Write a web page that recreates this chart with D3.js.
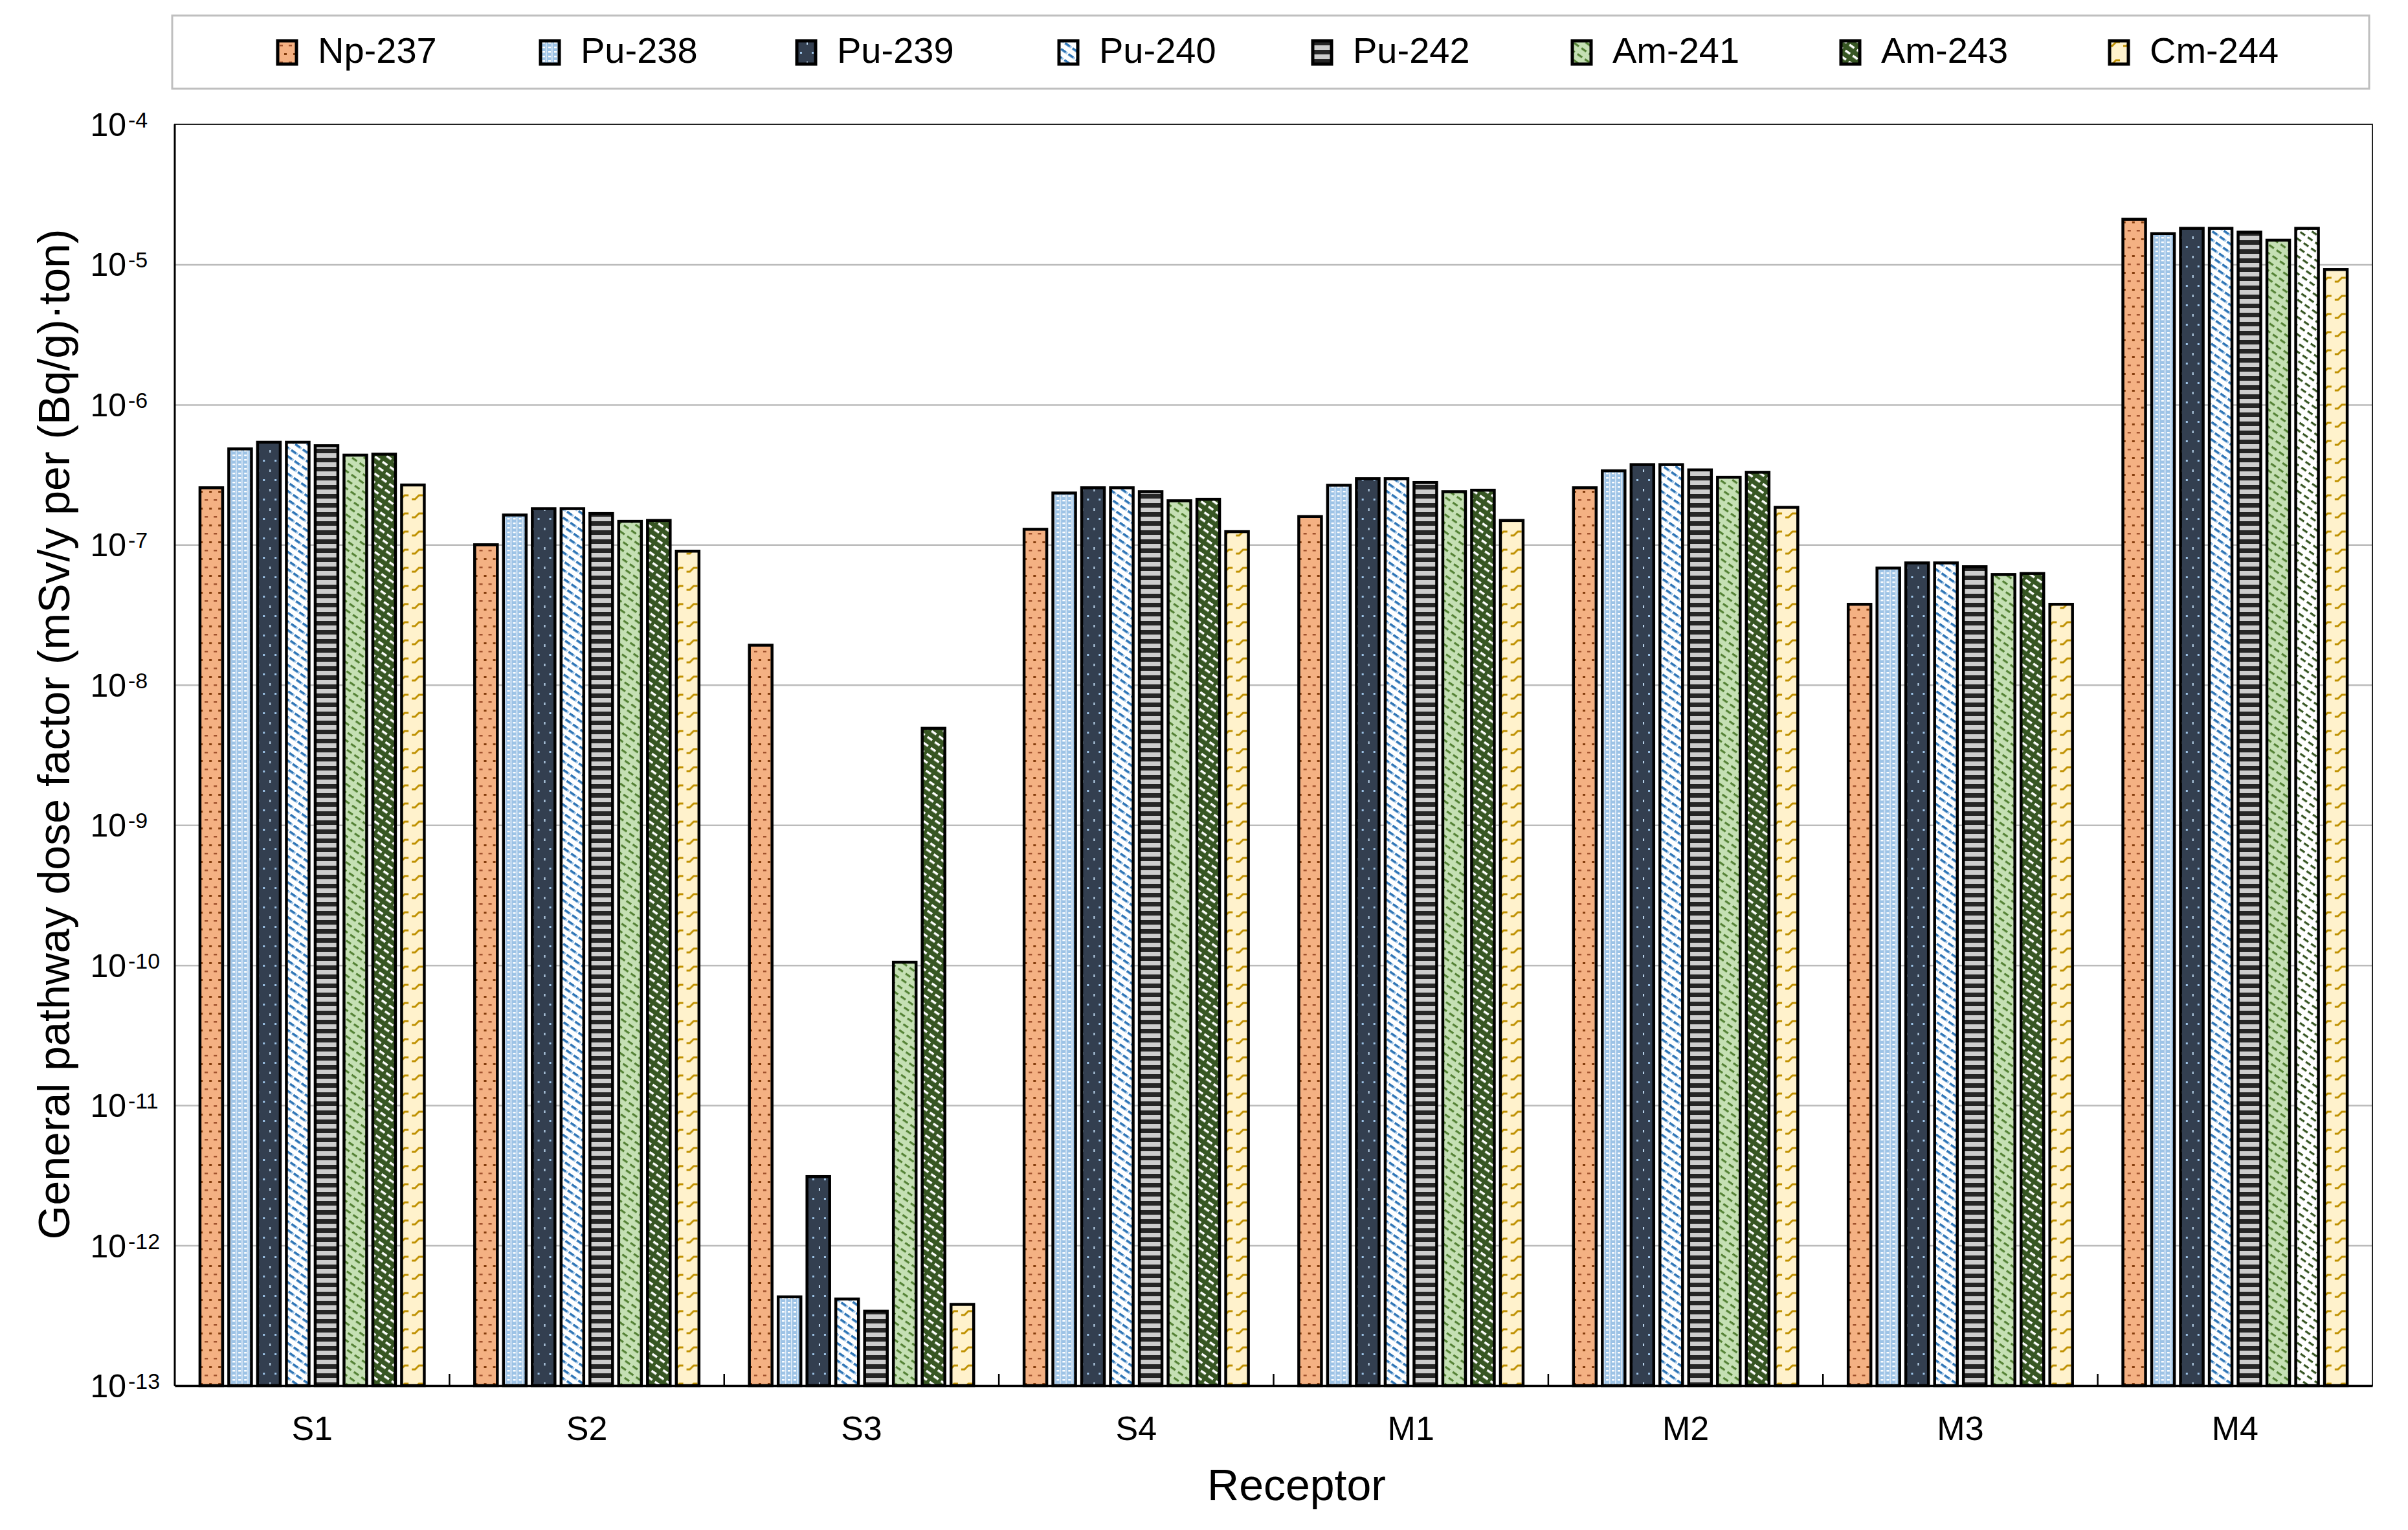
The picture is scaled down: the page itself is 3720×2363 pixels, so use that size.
<!DOCTYPE html>
<html><head><meta charset="utf-8">
<script src="https://cdn.jsdelivr.net/npm/d3@7"></script>
<style>body{margin:0;background:#fff} svg{display:block} text{font-family:"Liberation Sans",Arial,sans-serif;fill:#000}</style>
</head><body><svg id="c" width="3720" height="2363"></svg>
<script>
// ---------- data ----------
const receptors = ["S1","S2","S3","S4","M1","M2","M3","M4"];
const nuclides = ["Np-237","Pu-238","Pu-239","Pu-240","Pu-242","Am-241","Am-243","Cm-244"];
const np237 = [2.55e-7, 1.00e-7, 1.92e-8, 1.29e-7, 1.59e-7, 2.55e-7, 3.76e-8, 2.10e-5];
const pu238 = [4.83e-7, 1.63e-7, 4.3e-13, 2.34e-7, 2.66e-7, 3.37e-7, 6.82e-8, 1.66e-5];
const pu239 = [5.39e-7, 1.81e-7, 3.1e-12, 2.55e-7, 2.96e-7, 3.73e-7, 7.42e-8, 1.81e-5];
const pu240 = [5.39e-7, 1.81e-7, 4.15e-13, 2.55e-7, 2.96e-7, 3.73e-7, 7.42e-8, 1.81e-5];
const pu242 = [5.09e-7, 1.67e-7, 3.4e-13, 2.39e-7, 2.78e-7, 3.42e-7, 6.97e-8, 1.70e-5];
const am241 = [4.36e-7, 1.47e-7, 1.05e-10, 2.06e-7, 2.39e-7, 3.03e-7, 6.13e-8, 1.49e-5];
const am243 = [4.43e-7, 1.49e-7, 4.9e-9, 2.11e-7, 2.45e-7, 3.29e-7, 6.24e-8, 1.81e-5];
const cm244 = [2.67e-7, 9.0e-8, 3.8e-13, 1.24e-7, 1.49e-7, 1.85e-7, 3.76e-8, 9.2e-6];
const seriesValues = [np237, pu238, pu239, pu240, pu242, am241, am243, cm244];
const yTickExponents = [-4,-5,-6,-7,-8,-9,-10,-11,-12,-13];
const yTitle = "General pathway dose factor (mSv/y per (Bq/g)\u00B7ton)";
const xTitle = "Receptor";

// ---------- layout ----------
const L = 270, R = 3665, T = 192, B = 2140;
const svg = d3.select("#c");
const y = d3.scaleLog().domain([1e-13, 1e-4]).range([B, T]);
const x0 = d3.scaleBand().domain(receptors).range([L, R]);
const groupW = 356, pad = (x0.bandwidth() - groupW) / 2;
const x1 = d3.scaleBand().domain(nuclides).range([0, groupW]);
const barW = 35;

// ---------- patterns ----------
const defs = svg.append("defs");
function pat(id, w, h, bg, rot) {
  const p = defs.append("pattern").attr("id", id).attr("patternUnits", "userSpaceOnUse")
    .attr("width", w).attr("height", h);
  if (rot) p.attr("patternTransform", `rotate(${rot})`);
  p.append("rect").attr("width", w).attr("height", h).attr("fill", bg);
  return p;
}
let p;
p = pat("p0", 14, 26, "#F4B183");
p.append("rect").attr("x", 5).attr("y", 4).attr("width", 4).attr("height", 3).attr("fill", "#843C0C");
p.append("rect").attr("x", 0).attr("y", 17).attr("width", 3).attr("height", 2.5).attr("fill", "#A0522D");
p.append("rect").attr("x", 12).attr("y", 17).attr("width", 2).attr("height", 2.5).attr("fill", "#A0522D");
p = pat("p1", 9, 7, "#9DC3E6");
p.append("rect").attr("x", 1).attr("y", 2).attr("width", 4).attr("height", 2.4).attr("fill", "#fff");
p.append("rect").attr("x", 6).attr("y", 0).attr("width", 1.6).attr("height", 7).attr("fill", "#fff").attr("opacity", 0.7);
p = pat("p2", 18, 30, "#333F50");
p.append("rect").attr("x", 4).attr("y", 5).attr("width", 2).attr("height", 4).attr("fill", "#BDD7EE");
p.append("rect").attr("x", 12).attr("y", 20).attr("width", 3).attr("height", 3).attr("fill", "#9DC3E6");
p = pat("p3", 14, 11, "#FFFFFF", 35);
p.append("rect").attr("width", 9).attr("height", 3.6).attr("fill", "#2E75B6");
p.append("rect").attr("x", 9).attr("width", 3).attr("height", 3.6).attr("fill", "#9DC3E6");
p = pat("p4", 10, 14, "#CDCDCD");
p.append("rect").attr("y", 7).attr("width", 10).attr("height", 7).attr("fill", "#262626");
p = pat("p5", 14, 11, "#C5E0B4", 35);
p.append("rect").attr("width", 9).attr("height", 3.2).attr("fill", "#548235");
p = pat("p6", 14, 11, "#375623", 35);
p.append("rect").attr("width", 9).attr("height", 3.5).attr("fill", "#FFFFFF");
p = pat("p6b", 14, 11, "#FFFFFF", 35);
p.append("rect").attr("width", 9).attr("height", 3.2).attr("fill", "#375623");
p = pat("p7", 22, 28, "#FFF2CC");
p.append("path").attr("d", "M2,15 h5 l6,-6 h6").attr("stroke", "#BF9000").attr("stroke-width", 2.8).attr("fill", "none");
const patIds = ["p0","p1","p2","p3","p4","p5","p6","p7"];
const fillOverride = {"M4|Am-243": "p6b"};

// ---------- legend ----------
svg.append("rect").attr("x", 266).attr("y", 24).attr("width", 3394).attr("height", 113)
  .attr("fill", "#fff").attr("stroke", "#BFBFBF").attr("stroke-width", 3);
const legendTextX = [491, 897, 1293, 1698, 2090, 2491, 2906, 3321];
nuclides.forEach((n, i) => {
  const g = svg.append("g");
  g.append("rect").attr("x", legendTextX[i] - 62).attr("y", 63).attr("width", 29).attr("height", 36)
    .attr("fill", `url(#${patIds[i]})`).attr("stroke", "#000").attr("stroke-width", 5);
  g.append("text").attr("x", legendTextX[i]).attr("y", 97).attr("font-size", 56).text(n);
});

// ---------- grid ----------
const gridVals = yTickExponents.map(e => Math.pow(10, e)).filter(v => v < 1e-4 && v > 1e-13);
svg.append("g").attr("transform", `translate(${L},0)`)
  .call(d3.axisLeft(y).tickValues(gridVals).tickSize(-(R - L)).tickFormat(""))
  .call(g => g.select(".domain").remove())
  .call(g => g.selectAll(".tick line").attr("stroke", "#BBBBBB").attr("stroke-width", 2.5));

// ---------- bars ----------
const groups = svg.append("g").selectAll("g").data(receptors).join("g")
  .attr("transform", r => `translate(${x0(r) + pad},0)`);
groups.selectAll("rect").data((r, ri) => nuclides.map((n, ni) => ({r, n, v: seriesValues[ni][ri], ni})))
  .join("rect")
  .attr("x", d => x1(d.n) + (x1.bandwidth() - barW) / 2)
  .attr("y", d => y(d.v))
  .attr("width", barW)
  .attr("height", d => y(1e-13) - y(d.v))
  .attr("fill", d => `url(#${fillOverride[d.r + "|" + d.n] || patIds[d.ni]})`)
  .attr("stroke", "#000").attr("stroke-width", 4.5);

// ---------- frame & axes ----------
svg.append("rect").attr("x", L).attr("y", T).attr("width", R - L).attr("height", B - T)
  .attr("fill", "none").attr("stroke", "#222").attr("stroke-width", 2);
svg.append("line").attr("x1", L).attr("x2", L).attr("y1", T).attr("y2", B).attr("stroke", "#000").attr("stroke-width", 3);
const xAxis = svg.append("g").attr("transform", `translate(0,${B})`)
  .call(d3.axisBottom(x0).tickSize(0).tickPadding(0));
xAxis.select(".domain").attr("stroke", "#000").attr("stroke-width", 3.5);
xAxis.selectAll(".tick text").attr("font-size", 52).attr("font-family", "Liberation Sans, Arial, sans-serif")
  .attr("fill", "#000").attr("dy", null).attr("y", 84);
// inward category separators
svg.append("g").selectAll("line").data(receptors.slice(1)).join("line")
  .attr("x1", r => x0(r)).attr("x2", r => x0(r)).attr("y1", B).attr("y2", B - 18)
  .attr("stroke", "#000").attr("stroke-width", 2.5);

// y tick labels with superscripts
svg.append("g").selectAll("text").data(yTickExponents).join("text")
  .attr("x", 195).attr("y", e => y(Math.pow(10, e)) + 18).attr("font-size", 50).attr("text-anchor", "end")
  .text("10");
svg.append("g").selectAll("text").data(yTickExponents).join("text")
  .attr("x", 198).attr("y", e => y(Math.pow(10, e)) + 5).attr("font-size", 34)
  .text(e => "-" + Math.abs(e));

// titles
svg.append("text").attr("transform", `translate(107,1134) rotate(-90)`).attr("text-anchor", "middle")
  .attr("font-size", 68).text(yTitle);
svg.append("text").attr("x", 2003).attr("y", 2317).attr("text-anchor", "middle")
  .attr("font-size", 68).text(xTitle);
</script></body></html>
